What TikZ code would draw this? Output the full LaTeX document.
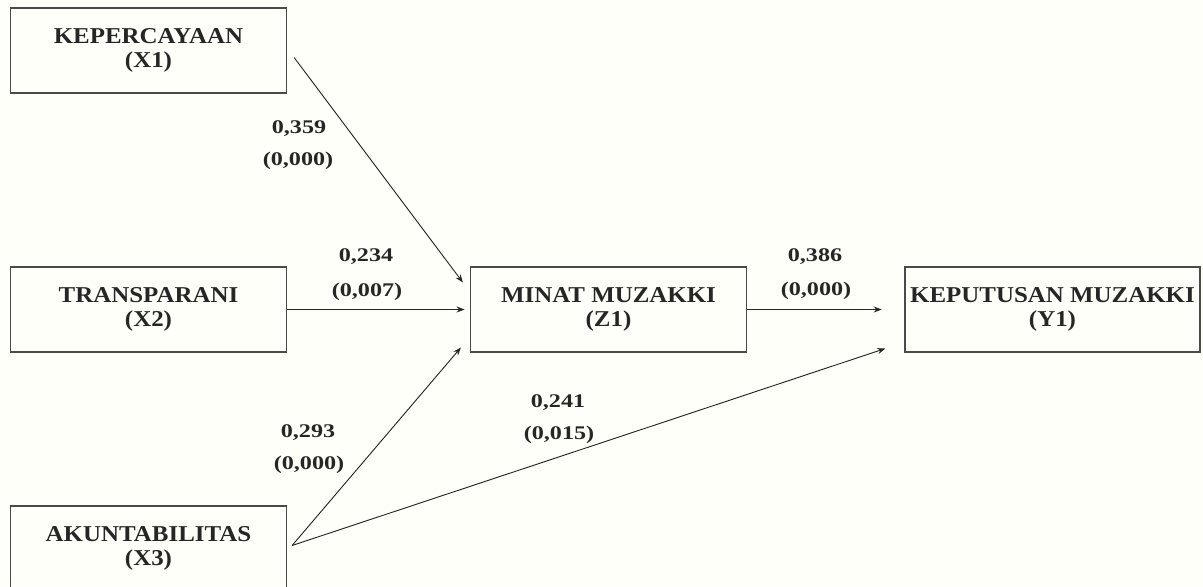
\documentclass[tikz,border=0pt]{standalone}
\usepackage{fontspec}
\setmainfont{Liberation Serif}
\newfontfamily\boxfont{Liberation Serif}[FakeStretch=1.1]
\newfontfamily\numfont{Liberation Serif}[FakeStretch=1.25]
\usetikzlibrary{arrows.meta,calc}
\definecolor{ink}{HTML}{262626}
\definecolor{edge}{HTML}{4A4A4A}
\begin{document}
\begin{tikzpicture}[x=0.75pt,y=-0.75pt,
  varbox/.style={draw=edge,line width=0.9pt,minimum width=207pt,minimum height=63.75pt,inner sep=0pt,
    align=center,font=\boxfont\fontsize{17}{18}\selectfont\bfseries,text=ink},
  arr/.style={draw=ink,line width=0.7pt,-{Stealth[length=6pt,width=4.5pt]}},
  lbl/.style={font=\numfont\fontsize{14.5}{16}\selectfont\bfseries,text=ink,inner sep=0pt}]
\useasboundingbox (0,0) rectangle (1203,586);
\clip (0,0) rectangle (1203,586);
\fill[white!98!yellow] (0,0) rectangle (1203,586);
\node[varbox] (x1) at (148.5,50.5) {KEPERCAYAAN\\(X1)};
\node[varbox] (x2) at (148.5,309.5) {TRANSPARANI\\(X2)};
\node[varbox] (x3) at (148.5,548.5) {AKUNTABILITAS\\(X3)};
\node[varbox] (z1) at (608.5,309.5) {MINAT MUZAKKI\\(Z1)};
\node[varbox,minimum width=221.25pt] (y1) at (1052.5,309.5) {KEPUTUSAN MUZAKKI\\(Y1)};
\draw[arr] ([shift={(7,7)}]x1.east) -- ([shift={(-7,-27)}]z1.west);
\draw[arr] (x2.east) -- ([xshift=-4]z1.west);
\draw[arr] ([shift={(5,-3)}]x3.east) -- ([shift={(-9,38)}]z1.west);
\draw[arr] ([shift={(5,-3)}]x3.east) -- ([shift={(-19,39)}]y1.west);
\draw[arr] (z1.east) -- ([xshift=-17]y1.west);
\node[lbl] (l1a) at (299,129) {0,359};
\node[lbl] (l1b) at (298,161) {(0,000)};
\node[lbl] (l2a) at (366,257) {0,234};
\node[lbl] (l2b) at (367,292) {(0,007)};
\node[lbl] (l3a) at (815,257) {0,386};
\node[lbl] (l3b) at (816,291) {(0,000)};
\node[lbl] (l4a) at (308,433) {0,293};
\node[lbl] (l4b) at (309,465) {(0,000)};
\node[lbl] (l5a) at (558,403) {0,241};
\node[lbl] (l5b) at (559,435) {(0,015)};
\end{tikzpicture}
\end{document}
